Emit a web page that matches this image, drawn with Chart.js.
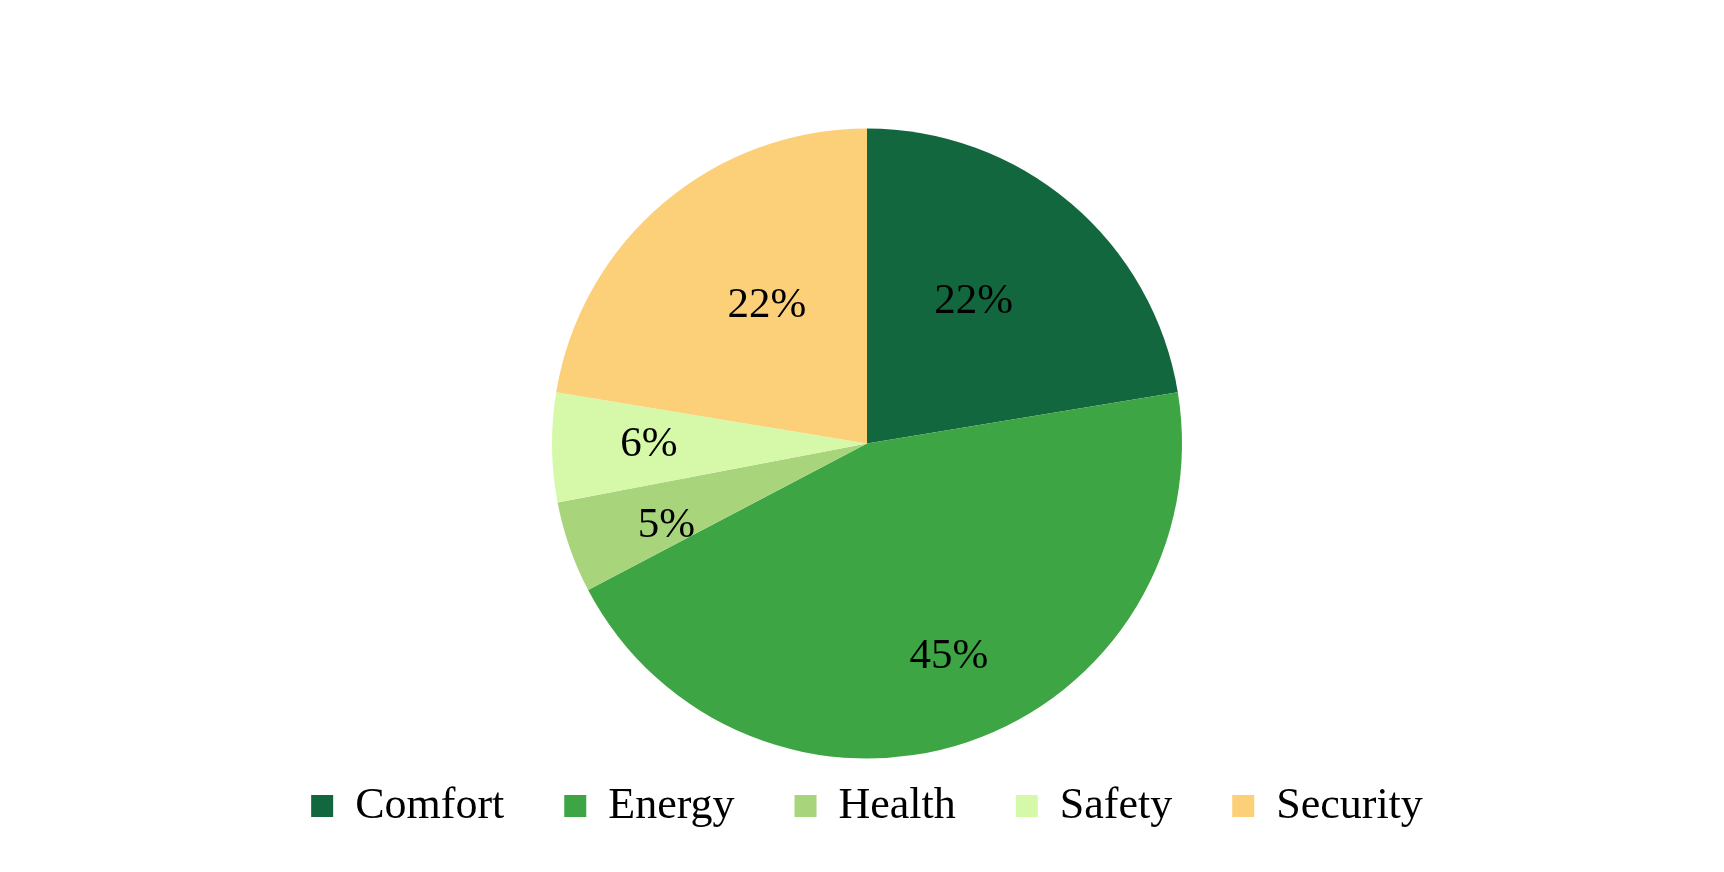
<!DOCTYPE html>
<html>
<head>
<meta charset="utf-8">
<script src="https://cdn.jsdelivr.net/npm/chart.js@4/dist/chart.umd.min.js"></script>
<style>
  html, body { margin: 0; padding: 0; background: #fff; }
  #wrap { width: 1724px; height: 872px; }
</style>
</head>
<body>
<div id="wrap"><canvas id="pieChart" width="1724" height="872"></canvas></div>
<script>
// categories and shares (percent)
const categories = ["Comfort", "Energy", "Health", "Safety", "Security"];
const shares = [22.4, 44.9, 4.7, 5.6, 22.4];
const sliceColors = ["#12673F", "#3DA543", "#A8D47B", "#D6F9A9", "#FCCF79"];
// label placement: share of the radius, and a small turn (degrees) off the slice middle
const labelRadius = [0.564, 0.724, 0.688, 0.692, 0.54];
const labelTurn = [-3.4, -2.5, -3, 0.5, 4.3];

const serif = "'Liberation Serif', 'DejaVu Serif', serif";

// draws the percent labels inside the slices
const sliceLabels = {
  id: "sliceLabels",
  afterDatasetsDraw(chart) {
    const { ctx } = chart;
    const meta = chart.getDatasetMeta(0);
    const total = shares.reduce((a, b) => a + b, 0);
    ctx.save();
    ctx.font = "43px " + serif;
    ctx.fillStyle = "#000";
    ctx.textAlign = "center";
    ctx.textBaseline = "middle";
    meta.data.forEach((arc, i) => {
      const mid = (arc.startAngle + arc.endAngle) / 2 + labelTurn[i] * Math.PI / 180;
      const r = arc.outerRadius * labelRadius[i];
      const x = arc.x + Math.cos(mid) * r;
      const y = arc.y + Math.sin(mid) * r;
      ctx.fillText(Math.round(shares[i] / total * 100) + "%", x, y);
    });
    ctx.restore();
  },
};

new Chart(document.getElementById("pieChart"), {
  type: "pie",
  data: {
    labels: categories,
    datasets: [
      {
        data: shares,
        backgroundColor: sliceColors,
        borderWidth: 0,
        radius: 315,
        clip: false,
      },
    ],
  },
  options: {
    responsive: false,
    animation: false,
    layout: { padding: { top: 163, bottom: 34, left: 10, right: 0 } },
    plugins: {
      legend: {
        display: true,
        position: "bottom",
        labels: {
          boxWidth: 22,
          boxHeight: 22,
          padding: 60,
          color: "#000",
          font: { family: serif, size: 44 },
        },
      },
      tooltip: { enabled: false },
    },
  },
  plugins: [sliceLabels],
});
</script>
</body>
</html>
